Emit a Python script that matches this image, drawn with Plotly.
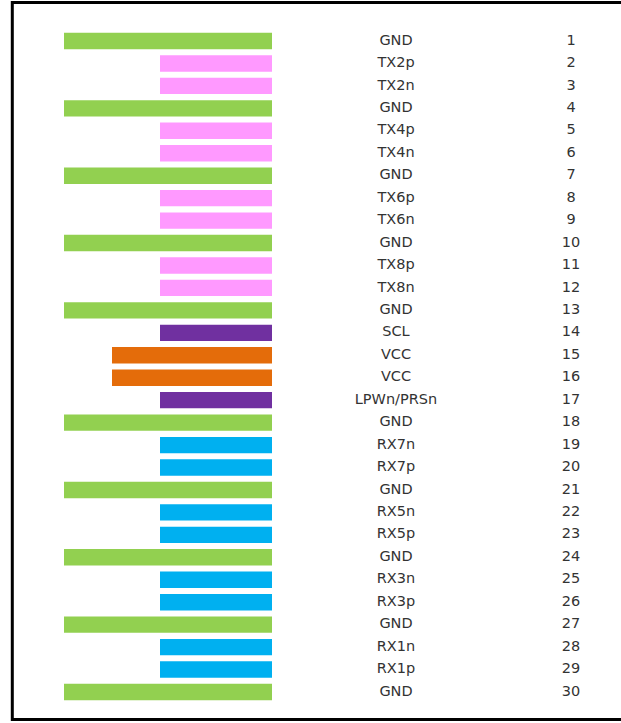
import plotly.graph_objects as go

pins = list(range(1, 31))
names = ["GND", "TX2p", "TX2n", "GND", "TX4p", "TX4n", "GND", "TX6p", "TX6n", "GND",
         "TX8p", "TX8n", "GND", "SCL", "VCC", "VCC", "LPWn/PRSn", "GND", "RX7n", "RX7p",
         "GND", "RX5n", "RX5p", "GND", "RX3n", "RX3p", "GND", "RX1n", "RX1p", "GND"]
groups = ["gnd", "tx", "tx", "gnd", "tx", "tx", "gnd", "tx", "tx", "gnd",
          "tx", "tx", "gnd", "ctl", "pwr", "pwr", "ctl", "gnd", "rx", "rx",
          "gnd", "rx", "rx", "gnd", "rx", "rx", "gnd", "rx", "rx", "gnd"]
group_len = {"gnd": 26, "pwr": 20, "tx": 14, "ctl": 14, "rx": 14}
group_color = {"gnd": "#92D050", "pwr": "#E46C0A", "tx": "#FF99FF", "ctl": "#7030A0", "rx": "#00B0F0"}

W, H = 621, 723
lengths = [group_len[g] for g in groups]
colors = [group_color[g] for g in groups]

fig = go.Figure()
fig.add_trace(go.Bar(
    x=lengths, y=pins, orientation="h",
    marker=dict(color=colors, line=dict(width=0)),
    hoverinfo="skip", showlegend=False,
))
# label columns on a second x axis measured in pixels
fig.add_trace(go.Scatter(
    x=[396] * len(pins), y=pins, mode="text", text=names,
    textfont=dict(family="DejaVu Sans", size=14.5, color="#333333"),
    xaxis="x2", yaxis="y", showlegend=False, hoverinfo="skip",
))
fig.add_trace(go.Scatter(
    x=[571] * len(pins), y=pins, mode="text", text=[str(p) for p in pins],
    textfont=dict(family="DejaVu Sans", size=14.5, color="#333333"),
    xaxis="x2", yaxis="y", showlegend=False, hoverinfo="skip",
))

px_per = (691 - 40) / 29
fig.update_layout(
    width=W, height=H,
    margin=dict(l=0, r=0, t=0, b=0),
    paper_bgcolor="white", plot_bgcolor="rgba(0,0,0,0)",
    bargap=0.27,
    xaxis=dict(domain=[64 / W, 272 / W], range=[26, 0], visible=False, fixedrange=True, anchor="y"),
    xaxis2=dict(domain=[0, 1], range=[0, W], visible=False, fixedrange=True, anchor="y"),
    yaxis=dict(range=[30 + (H - 692) / px_per, 1 - 41 / px_per], visible=False, fixedrange=True),
    shapes=[dict(type="rect", xref="paper", yref="paper",
                 x0=12.3 / W, x1=1.02, y0=1 - 2.5 / H, y1=1 - 719.5 / H,
                 line=dict(color="black", width=3))],
)
fig.write_html("out.html", config={"displayModeBar": False},
               post_script="document.body.style.margin='0';")
